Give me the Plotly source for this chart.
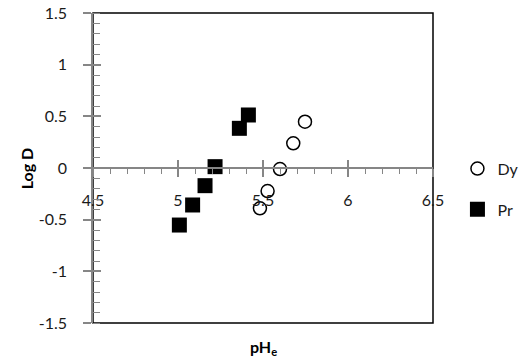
import plotly.graph_objects as go

# Data
dy_ph = [5.747, 5.678, 5.600, 5.527, 5.482]
dy_logd = [0.448, 0.239, -0.01, -0.223, -0.39]
pr_ph = [5.414, 5.361, 5.218, 5.159, 5.086, 5.008]
pr_logd = [0.513, 0.384, 0.013, -0.171, -0.358, -0.552]

x_ticks = [4.5, 5, 5.5, 6, 6.5]
x_labels = ["4.5", "5", "5.5", "6", "6.5"]
y_ticks = [-1.5, -1, -0.5, 0, 0.5, 1, 1.5]
y_labels = ["-1.5", "-1", "-0.5", "0", "0.5", "1", "1.5"]

FONT = "Lato"
GREY = "#868686"
TXT = "#1a1a1a"

fig = go.Figure()
fig.add_trace(go.Scatter(
    x=dy_ph, y=dy_logd, mode="markers", name="Dy",
    xaxis="x2", yaxis="y2", legendgroup="a",
    marker=dict(symbol="circle-open", size=13, color="black", line=dict(width=1.5, color="black")),
))
fig.add_trace(go.Scatter(
    x=pr_ph, y=pr_logd, mode="markers", name="Pr", legendgroup="b",
    marker=dict(symbol="square", size=15, color="black"),
))

common_x = dict(range=[4.5, 6.5], tickvals=x_ticks, ticktext=x_labels, showgrid=False,
                zeroline=False, automargin=False,
                anchor="free", position=0.5, linecolor=GREY, tickcolor=GREY, ticklen=8)
fig.update_layout(
    width=521, height=361,
    margin=dict(l=93, r=88, t=13, b=38, autoexpand=False),
    paper_bgcolor="white", plot_bgcolor="white",
    font=dict(family=FONT, size=16, color=TXT),
    xaxis=dict(**common_x, showline=True, linewidth=1.5, ticks="outside", tickwidth=1.5,
               ticklabelstandoff=10,
               tickfont=dict(family=FONT, size=16, color=TXT),
               minor=dict(dtick=0.1, ticks="outside", ticklen=5, tickcolor=GREY, tickwidth=1)),
    xaxis2=dict(**common_x, overlaying="x", showline=False, ticks="inside", tickwidth=1.5,
                showticklabels=False),
    yaxis=dict(range=[-1.5, 1.5], tickvals=y_ticks, ticktext=y_labels, showgrid=False,
               zeroline=False, automargin=False,
               showline=True, linecolor=GREY, linewidth=1.5, ticks="outside", ticklen=8,
               tickcolor=GREY, tickwidth=1.5, ticklabelstandoff=13,
               tickfont=dict(family=FONT, size=16, color=TXT),
               minor=dict(dtick=0.1, ticks="inside", ticklen=7, tickcolor=GREY, tickwidth=1)),
    yaxis2=dict(range=[-1.5, 1.5], tickvals=y_ticks, showgrid=False, zeroline=False,
                automargin=False,
                overlaying="y", showline=False, ticks="inside", ticklen=8,
                tickcolor=GREY, tickwidth=1.5, showticklabels=False),
    legend=dict(xref="container", yref="container", x=0.878, xanchor="left",
                y=0.58, yanchor="top", tracegroupgap=17,
                font=dict(family=FONT, size=16, color=TXT), bgcolor="rgba(0,0,0,0)"),
    showlegend=True,
    shapes=[dict(type="rect", xref="paper", yref="paper", x0=0, x1=1, y0=0, y1=1,
                 line=dict(color="black", width=1.5), layer="below")],
    annotations=[
        dict(text="<b>Log D</b>", xref="paper", yref="paper", x=-0.23, y=0.5,
             textangle=-90, showarrow=False, font=dict(family=FONT, size=16, color="black")),
        dict(text="<b>pH<sub>e</sub></b>", xref="paper", yref="paper", x=0.5, y=-0.08,
             yanchor="middle", showarrow=False, font=dict(family=FONT, size=16, color="black")),
    ],
)

fig.write_html("out.html")
